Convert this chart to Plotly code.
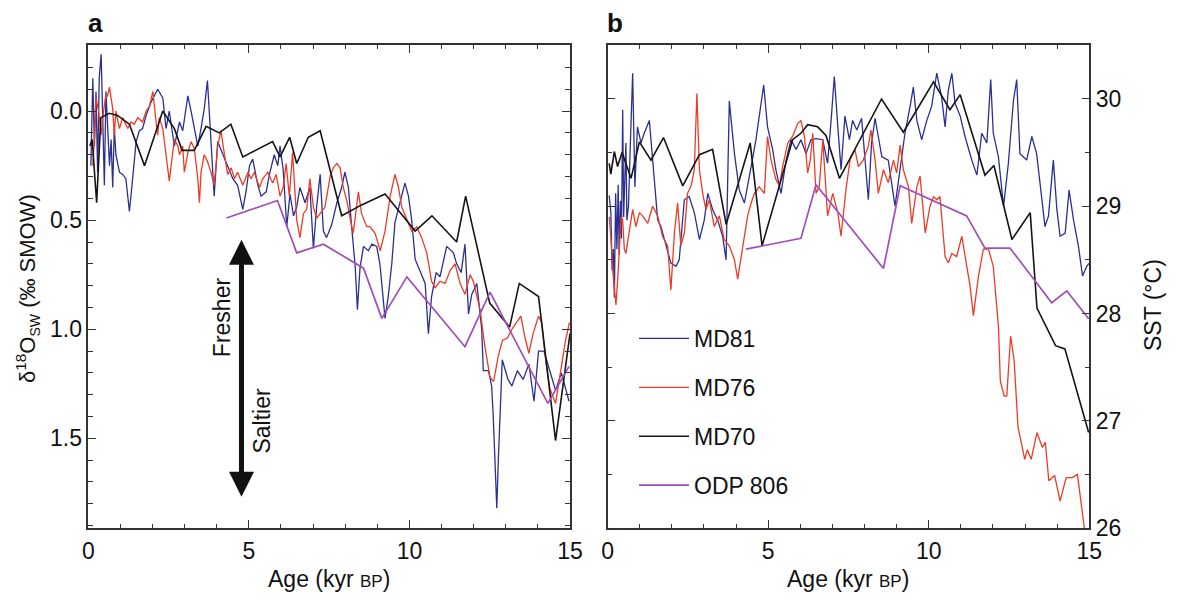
import plotly.graph_objects as go

# ---------------- Panel a : d18O seawater ----------------
a_md81_age = [0.08,0.14,0.19,0.24,0.29,0.34,0.40,0.45,0.50,0.55,0.60,0.66,0.71,0.76,0.81,0.86,0.97,1.07,1.17,1.28,
              1.38,1.49,1.59,1.69,1.80,1.95,2.16,2.32,2.42,2.52,2.68,2.84,2.94,3.10,3.20,3.30,3.41,3.51,3.61,3.71,
              3.82,3.92,4.03,4.19,4.34,4.50,4.65,4.81,4.91,5.02,5.12,5.28,5.38,5.54,5.64,5.79,5.90,5.97,6.07,6.18,
              6.28,6.39,6.49,6.59,6.75,6.90,7.01,7.11,7.22,7.32,7.42,7.58,7.74,7.89,7.99,8.10,8.20,8.31,8.38,8.46,
              8.57,8.72,8.83,8.98,9.08,9.24,9.34,9.45,9.55,9.71,9.86,9.97,10.07,10.18,10.33,10.49,10.59,10.69,10.83,10.95,
              11.16,11.37,11.47,11.61,11.73,11.84,11.94,12.10,12.25,12.30,12.46,12.56,12.61,12.72,12.77,12.89,13.07,13.19,13.36,13.54,
              13.72,13.88,14.02,14.19,14.37,14.55,14.73,14.85,14.97]
a_md81_d18o = [0.25,-0.15,0.16,-0.09,0.28,-0.15,-0.26,0.00,0.34,-0.09,0.06,0.25,0.13,0.35,0.08,0.20,0.28,0.29,0.31,0.46,
               0.31,0.14,0.09,0.08,0.02,-0.04,-0.10,-0.06,0.08,0.00,0.16,0.05,0.09,-0.07,0.00,0.08,0.16,0.08,-0.01,-0.14,
               0.14,0.39,0.14,0.20,0.25,0.31,0.34,0.45,0.37,0.25,0.22,0.34,0.39,0.37,0.29,0.20,0.25,0.16,0.27,0.53,
               0.38,0.48,0.44,0.35,0.42,0.35,0.63,0.44,0.29,0.55,0.58,0.52,0.42,0.35,0.28,0.35,0.53,0.71,0.91,0.72,
               0.62,0.64,0.61,0.62,0.70,0.95,0.85,0.70,0.51,0.42,0.33,0.39,0.50,0.68,0.73,0.79,1.02,0.85,0.74,0.76,
               0.62,0.65,0.70,0.74,0.61,0.93,0.84,0.79,1.00,1.19,1.19,1.26,1.40,1.82,1.59,1.14,1.23,1.26,1.19,1.23,
               1.16,1.33,1.10,1.10,1.19,1.28,1.20,1.27,1.33]

a_md76_age = [0.14,0.19,0.24,0.32,0.40,0.45,0.53,0.60,0.66,0.76,0.81,0.86,0.97,1.07,1.23,1.33,1.43,1.54,1.69,1.80,
              1.90,2.01,2.11,2.16,2.21,2.32,2.42,2.52,2.58,2.68,2.79,2.84,2.94,2.99,3.10,3.20,3.30,3.41,3.46,3.51,
              3.61,3.71,3.82,3.92,4.03,4.13,4.24,4.34,4.45,4.55,4.65,4.81,4.97,5.07,5.17,5.33,5.43,5.59,5.74,5.85,
              5.97,6.07,6.16,6.26,6.36,6.49,6.59,6.70,6.80,6.90,7.01,7.11,7.22,7.37,7.53,7.63,7.74,7.84,7.94,8.05,
              8.15,8.25,8.41,8.51,8.67,8.77,8.93,9.09,9.24,9.40,9.55,9.66,9.76,9.92,10.07,10.23,10.38,10.54,10.69,10.80,
              10.95,11.11,11.27,11.42,11.58,11.73,11.89,11.99,12.20,12.35,12.51,12.62,12.77,12.90,13.05,13.19,13.36,13.47,13.60,13.72,
              13.85,14.02,14.12,14.25,14.37,14.55,14.67,14.85,14.98]
a_md76_d18o = [0.25,0.13,-0.06,0.00,0.11,0.03,-0.06,-0.07,-0.11,-0.01,0.11,0.00,0.08,0.03,0.08,0.05,0.06,0.03,0.05,0.00,
               -0.02,-0.09,0.05,0.11,0.03,0.08,0.20,0.32,0.25,0.13,0.16,0.20,0.16,0.28,0.19,0.14,0.17,0.31,0.42,0.28,
               0.20,0.23,0.28,0.34,0.16,0.09,0.20,0.29,0.26,0.31,0.28,0.34,0.28,0.31,0.28,0.35,0.31,0.28,0.33,0.29,
               0.39,0.35,0.24,0.39,0.19,0.50,0.58,0.47,0.45,0.31,0.44,0.49,0.47,0.44,0.30,0.26,0.24,0.26,0.35,0.41,
               0.49,0.56,0.37,0.47,0.53,0.53,0.56,0.64,0.55,0.39,0.29,0.35,0.44,0.50,0.55,0.53,0.58,0.65,0.78,0.81,
               0.78,0.79,0.73,0.70,0.79,0.84,0.75,0.78,0.91,1.08,1.22,1.24,1.12,1.05,1.04,1.00,0.96,0.94,1.04,1.11,
               1.02,0.94,0.97,1.15,1.27,1.34,1.23,1.06,0.97]

a_md70_age = [0.05,0.12,0.26,0.39,0.65,0.91,1.28,1.75,2.32,2.68,2.92,3.30,3.67,4.08,4.44,4.81,5.74,5.97,6.27,6.49,
              6.85,7.22,7.89,8.51,9.24,10.18,10.70,11.47,11.75,12.50,13.12,13.42,14.02,14.55,15.00]
a_md70_d18o = [0.16,0.13,0.42,0.03,0.01,0.02,0.06,0.25,0.00,0.08,0.18,0.18,0.07,0.10,0.06,0.21,0.14,0.21,0.12,0.24,
               0.12,0.09,0.48,0.43,0.38,0.55,0.48,0.60,0.39,0.88,0.99,0.79,0.85,1.51,1.02]

a_odp_age = [4.30,5.89,6.49,7.32,8.57,9.14,9.92,11.73,12.51,14.31,14.97]
a_odp_d18o = [0.49,0.41,0.65,0.61,0.72,0.95,0.76,1.08,0.83,1.34,1.17]

# ---------------- Panel b : SST ----------------
b_md81_age = [0.05,0.10,0.14,0.18,0.21,0.25,0.29,0.33,0.36,0.40,0.43,0.47,0.50,0.54,0.57,0.60,0.65,0.70,0.78,0.85,
              0.93,1.04,1.14,1.30,1.40,1.56,1.66,1.82,1.97,2.13,2.23,2.39,2.54,2.70,2.86,3.01,3.12,3.27,3.43,3.58,
              3.69,3.79,3.95,4.10,4.26,4.47,4.62,4.86,4.98,5.14,5.24,5.40,5.56,5.71,5.87,6.02,6.18,6.33,6.49,6.70,
              6.85,6.96,7.06,7.17,7.27,7.39,7.53,7.63,7.76,7.91,8.02,8.12,8.22,8.33,8.54,8.74,8.95,9.11,9.26,9.42,
              9.52,9.63,9.78,9.94,10.09,10.25,10.40,10.51,10.61,10.72,10.82,10.98,11.13,11.34,11.50,11.65,11.81,11.93,12.01,12.17,
              12.33,12.48,12.64,12.74,12.84,13.05,13.21,13.36,13.52,13.62,13.73,13.88,13.99,14.09,14.25,14.37,14.51,14.66,14.79,14.92,
              15.00]
b_md81_sst = [29.10,28.95,28.40,28.60,28.15,29.12,28.60,29.20,28.55,29.05,28.70,29.90,28.90,29.30,29.59,28.87,29.00,29.50,30.24,29.18,
              29.74,29.59,29.68,29.80,29.46,28.87,28.81,28.63,28.47,28.44,28.50,29.06,29.09,28.94,28.69,28.87,29.12,28.97,28.87,28.72,
              28.50,29.98,29.49,29.15,29.03,29.37,29.62,30.13,29.74,29.53,29.34,29.12,29.43,29.62,29.53,29.62,29.49,29.62,29.63,29.62,
              29.40,29.80,30.21,29.74,29.34,29.84,29.62,29.80,29.71,29.82,29.46,29.06,29.59,29.82,29.46,29.43,29.00,29.37,29.68,29.93,
              30.11,29.80,29.62,29.80,29.93,30.24,30.02,29.74,30.08,30.24,29.96,29.84,29.65,29.43,29.29,29.68,29.59,30.18,29.68,29.46,
              29.00,29.40,29.99,30.18,29.49,29.43,29.65,29.49,29.06,28.81,28.91,29.43,28.97,28.72,28.75,29.15,28.87,28.63,28.35,28.44,
              28.47]

b_md76_age = [0.05,0.10,0.16,0.21,0.26,0.31,0.36,0.42,0.47,0.52,0.57,0.67,0.78,0.88,0.99,1.09,1.25,1.40,1.56,1.71,
              1.87,1.97,2.08,2.18,2.28,2.39,2.49,2.60,2.70,2.78,2.86,2.96,3.06,3.17,3.32,3.48,3.63,3.79,3.95,4.05,
              4.15,4.26,4.36,4.47,4.57,4.72,4.88,4.98,5.09,5.24,5.35,5.45,5.61,5.76,5.92,6.02,6.13,6.23,6.31,6.39,
              6.49,6.59,6.70,6.85,7.01,7.17,7.27,7.42,7.55,7.70,7.81,7.96,8.12,8.20,8.33,8.43,8.59,8.74,8.90,9.00,
              9.11,9.21,9.37,9.47,9.63,9.73,9.89,10.04,10.15,10.25,10.35,10.51,10.61,10.72,10.87,11.03,11.13,11.29,11.39,11.55,
              11.70,11.86,12.01,12.08,12.17,12.23,12.35,12.43,12.55,12.66,12.78,12.99,13.07,13.19,13.37,13.54,13.63,13.74,13.92,14.09,
              14.28,14.47,14.63,14.85]
b_md76_sst = [28.90,28.72,28.40,28.25,28.08,28.30,28.63,28.90,28.87,28.60,28.56,28.75,28.97,28.81,28.94,28.91,28.84,29.00,28.91,28.72,
              28.63,28.22,28.75,29.03,28.63,28.75,29.12,29.19,29.34,30.05,29.34,29.12,28.97,29.06,28.81,28.91,28.69,28.63,28.50,28.32,
              28.50,28.69,28.91,29.03,29.12,29.18,29.12,29.65,29.43,29.25,29.19,29.37,29.59,29.65,29.77,29.80,29.65,29.31,29.43,29.68,
              29.12,29.18,29.62,28.91,29.12,28.94,28.72,29.15,29.43,29.53,29.37,29.43,29.56,29.71,29.43,29.12,29.34,29.22,29.43,29.31,
              29.57,29.34,29.18,28.84,29.18,29.28,28.75,29.00,29.09,29.06,29.09,28.53,28.47,28.56,28.53,28.72,28.53,28.25,27.98,28.35,
              28.60,28.60,28.44,28.20,27.88,27.37,27.23,27.23,27.79,27.56,26.94,26.64,26.73,26.64,26.89,26.75,26.80,26.44,26.49,26.25,
              26.47,26.47,26.50,25.99]

b_md70_age = [0.05,0.10,0.21,0.31,0.45,0.73,0.99,1.35,1.74,2.34,2.86,3.27,3.69,4.44,4.81,5.76,6.02,6.23,6.54,6.80,
              7.22,8.53,9.21,10.15,10.66,10.98,11.75,12.03,12.59,13.16,13.37,13.95,14.24,14.98]
b_md70_sst = [29.40,29.30,29.51,29.37,29.50,29.26,29.60,29.43,29.64,29.19,29.48,29.53,28.83,29.59,28.63,29.62,29.68,29.76,29.74,29.66,
              29.26,30.00,29.69,30.16,29.90,30.04,29.29,29.38,28.69,28.94,28.05,27.70,27.67,26.89]

b_odp_age = [4.31,6.02,6.49,8.59,9.11,11.18,11.75,12.53,13.83,14.30,14.98]
b_odp_sst = [28.60,28.70,29.20,28.42,29.19,28.91,28.61,28.61,28.10,28.21,27.95]

series_names = ["MD81", "MD76", "MD70", "ODP 806"]
series_colors = ["#2B2F93", "#EC3B25", "#141414", "#A04DB8"]
series_widths = [1.3, 1.3, 1.6, 1.7]

x_ticks = [0, 5, 10, 15]
a_y_ticks = [0.0, 0.5, 1.0, 1.5]
b_y_ticks = [26, 27, 28, 29, 30]

FONT = "Liberation Sans, Arial, Helvetica, sans-serif"
W, H = 1180, 601
FS = 23

fig = go.Figure()

a_data = [(a_md81_age, a_md81_d18o), (a_md76_age, a_md76_d18o), (a_md70_age, a_md70_d18o), (a_odp_age, a_odp_d18o)]
b_data = [(b_md81_age, b_md81_sst), (b_md76_age, b_md76_sst), (b_md70_age, b_md70_sst), (b_odp_age, b_odp_sst)]

for (xs, ys), name, col, lw in zip(a_data, series_names, series_colors, series_widths):
    fig.add_trace(go.Scatter(x=xs, y=ys, mode="lines", name=name, showlegend=False,
                             line=dict(color=col, width=lw), xaxis="x", yaxis="y"))
for (xs, ys), name, col, lw in zip(b_data, series_names, series_colors, series_widths):
    fig.add_trace(go.Scatter(x=xs, y=ys, mode="lines", name=name, showlegend=True, legendgroup=name,
                             line=dict(color=col, width=lw), xaxis="x2", yaxis="y2"))

def px_x(p):
    return p / W

def px_y(p):
    return 1 - p / H

axis_common = dict(showline=True, linecolor="#333333", linewidth=1.5, mirror="ticks",
                   ticks="inside", ticklen=8, tickwidth=1.3, tickcolor="#333333",
                   showgrid=False, zeroline=False, automargin=False,
                   tickfont=dict(family=FONT, size=FS, color="#111111"))

y_dom = [px_y(528), px_y(45)]

fig.update_layout(
    width=W, height=H, autosize=False,
    margin=dict(l=0, r=0, t=0, b=0, pad=0),
    paper_bgcolor="white", plot_bgcolor="white",
    font=dict(family=FONT, color="#111111"),
    xaxis=dict(domain=[px_x(88.3), px_x(570)], range=[0, 15], tickvals=x_ticks,
               minor=dict(dtick=1, ticklen=4, tickwidth=1.2, tickcolor="#333333", ticks="inside"),
               anchor="y", ticklabelstandoff=2, **axis_common),
    yaxis=dict(domain=y_dom, range=[1.911, -0.303], tickvals=a_y_ticks, tickformat=".1f",
               minor=dict(dtick=0.1, ticklen=5, tickwidth=1.2, tickcolor="#333333", ticks="inside"),
               anchor="x", **axis_common),
    xaxis2=dict(domain=[px_x(607.6), px_x(1089.3)], range=[0, 15], tickvals=x_ticks,
                minor=dict(dtick=1, ticklen=4, tickwidth=1.2, tickcolor="#333333", ticks="inside"),
                anchor="y2", ticklabelstandoff=2, **axis_common),
    yaxis2=dict(domain=y_dom, range=[26, 30.503], tickvals=b_y_ticks, side="right",
                minor=dict(dtick=0.5, ticklen=5, tickwidth=1.2, tickcolor="#333333", ticks="inside"),
                anchor="x2", **axis_common),
    legend=dict(x=px_x(634), y=px_y(317), xanchor="left", yanchor="top",
                bgcolor="rgba(0,0,0,0)", borderwidth=0,
                font=dict(family=FONT, size=FS, color="#111111"),
                tracegroupgap=16, itemwidth=50, traceorder="grouped"),
)

ann = []
# panel labels
ann.append(dict(text="<b>a</b>", x=px_x(86), y=px_y(23), xref="paper", yref="paper",
                xanchor="left", yanchor="middle", showarrow=False,
                font=dict(family=FONT, size=26, color="#111111")))
ann.append(dict(text="<b>b</b>", x=px_x(605), y=px_y(23), xref="paper", yref="paper",
                xanchor="left", yanchor="middle", showarrow=False,
                font=dict(family=FONT, size=26, color="#111111")))
# axis titles
xtitle = "Age (kyr <span style='font-size:17px'>BP</span>)"
ann.append(dict(text=xtitle, x=px_x(329), y=px_y(579), xref="paper", yref="paper",
                xanchor="center", yanchor="middle", showarrow=False,
                font=dict(family=FONT, size=FS, color="#111111")))
ann.append(dict(text=xtitle, x=px_x(848), y=px_y(579), xref="paper", yref="paper",
                xanchor="center", yanchor="middle", showarrow=False,
                font=dict(family=FONT, size=FS, color="#111111")))
ann.append(dict(text="\u03b4<sup>18</sup>O<sub><span style='font-size:14px'>SW</span></sub> (\u2030 SMOW)",
                x=px_x(27), y=px_y(289), xref="paper", yref="paper", textangle=-90,
                xanchor="center", yanchor="middle", showarrow=False,
                font=dict(family=FONT, size=FS - 1, color="#111111")))
ann.append(dict(text="SST (\u00b0C)", x=px_x(1153), y=px_y(305), xref="paper", yref="paper",
                textangle=-90, xanchor="center", yanchor="middle", showarrow=False,
                font=dict(family=FONT, size=FS, color="#111111")))
# Fresher / Saltier arrow
ann.append(dict(text="", x=4.77, y=0.59, ax=4.77, ay=1.775, xref="x", yref="y", axref="x", ayref="y",
                showarrow=True, arrowside="end+start", arrowhead=2, startarrowhead=2,
                arrowsize=1, startarrowsize=1, arrowwidth=5, arrowcolor="#111111"))
ann.append(dict(text="Fresher", x=4.16, y=0.945, xref="x", yref="y", textangle=-90,
                xanchor="center", yanchor="middle", showarrow=False,
                font=dict(family=FONT, size=FS, color="#111111")))
ann.append(dict(text="Saltier", x=5.40, y=1.42, xref="x", yref="y", textangle=-90,
                xanchor="center", yanchor="middle", showarrow=False,
                font=dict(family=FONT, size=FS, color="#111111")))
fig.update_layout(annotations=ann)

fig.write_html("out.html", config={"displayModeBar": False},
               post_script="document.body.style.margin='0';document.body.style.padding='0';"
                           "document.body.style.overflow='hidden';")
